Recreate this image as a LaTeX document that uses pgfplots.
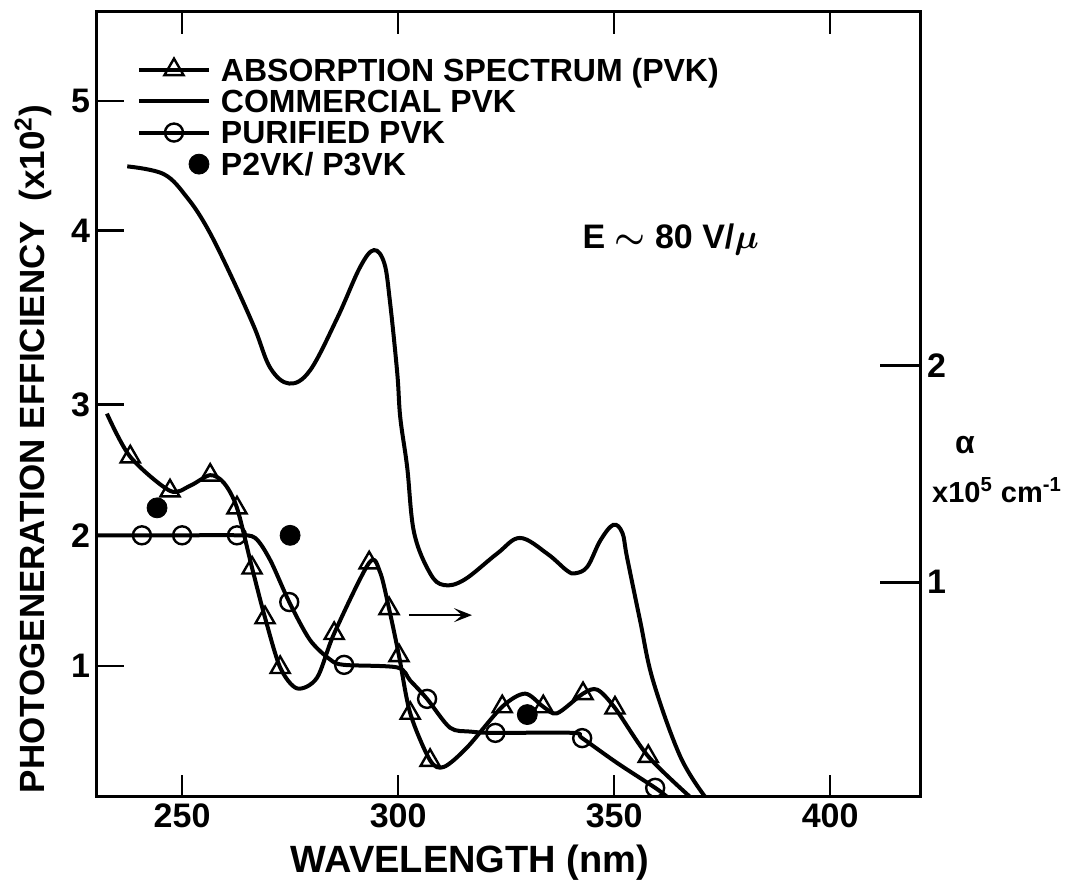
\documentclass[border=0pt]{standalone}
\usepackage{pgfplots}
\pgfplotsset{compat=1.18}
\usetikzlibrary{arrows.meta}
\usepackage{fontspec}
\setmainfont{Liberation Sans}

\pgfplotsset{
    pvk line legend/.style={legend image code/.code={
        \draw[##1, mark indices={2}] plot coordinates {(0pt,0pt) (17.5pt,0pt) (35pt,0pt)};}},
    pvk dot legend/.style={legend image code/.code={
        \draw[##1] plot coordinates {(30pt,0pt)};}},
}

\begin{document}
\begin{tikzpicture}
\begin{axis}[
    name=main,
    scale only axis,
    width=411.5pt, height=392.5pt,
    xmin=230.3, xmax=420.8,
    ymin=0, ymax=6,
    axis line style={line width=1.5pt},
    xtick={250,300,350,400},
    xticklabels={250,300,350,400},
    ytick={1,2,3,4.33,5.32},       % the printed axis is unevenly spaced
    yticklabels={1,2,3,4,5},
    xtick pos=both,
    ytick pos=left,
    tick align=inside,
    xtick style={line width=1.3pt, black, /pgfplots/major tick length=11pt},
    ytick style={line width=1.3pt, black, /pgfplots/major tick length=13.5pt},
    tick label style={font=\fontsize{17}{20}\selectfont\bfseries},
    xlabel={WAVELENGTH (nm)},
    ylabel={PHOTOGENERATION EFFICIENCY \ (x10\textsuperscript{2})},
    xlabel style={at={(rel axis cs:0.453,-0.084)}, anchor=center, font=\fontsize{19}{22}\selectfont\bfseries},
    ylabel style={at={(rel axis cs:-0.0778,0.443)}, anchor=center, font=\fontsize{17.5}{20}\selectfont\bfseries},
    legend style={
        at={(rel axis cs:0.0486,0.9414)}, anchor=north west,
        draw=none, fill=none, inner sep=0pt, outer sep=0pt,
        font=\fontsize{16}{19}\selectfont\bfseries,
        row sep=4.5pt, column sep=5pt,
        nodes={inner sep=0pt, text depth=0pt},
    },
    legend cell align=left,
    pvk line legend,
]

% absorption spectrum (PVK), right-hand scale
\addplot[black, line width=2pt, smooth, tension=0.5,
    mark=triangle, mark size=5.5pt, mark options={line width=1.2pt},
    mark indices={2,3,5,7,8,9,10,13,14,16,17,18,19,22,24,26,28,29}]
table {
x y
232.6 2.93
238.0 2.60
247.2 2.34
251.9 2.38
256.5 2.46
259.7 2.40
262.7 2.21
266.2 1.75
269.2 1.37
272.7 0.99
276.6 0.83
281.2 0.91
285.2 1.25
293.3 1.79
295.8 1.72
297.9 1.44
300.2 1.08
302.8 0.64
307.4 0.28
310.6 0.23
316.0 0.38
324.1 0.69
329.4 0.79
333.6 0.69
336.8 0.64
342.8 0.79
346.1 0.82
350.2 0.68
357.9 0.31
367.6 0.00
};
\addlegendentry{ABSORPTION SPECTRUM (PVK)}

% commercial PVK
\addplot[black, line width=2pt, smooth, tension=0.6]
table {
x y
237.3 4.82
245.8 4.76
251.2 4.58
255.8 4.35
261.1 4.00
266.7 3.59
270.4 3.28
274.8 3.16
279.6 3.26
285.9 3.66
291.2 4.05
294.4 4.18
296.8 4.08
298.1 3.79
299.8 3.24
300.5 2.90
302.1 2.52
303.7 2.02
307.4 1.71
310.6 1.62
315.3 1.66
322.9 1.86
328.2 1.98
334.5 1.86
339.1 1.73
341.0 1.71
343.8 1.76
346.8 1.96
349.8 2.08
351.9 2.02
353.0 1.83
356.0 1.35
359.0 0.89
365.3 0.31
371.1 0.00
};
\addlegendentry{COMMERCIAL PVK}

% purified PVK
\addplot[black, line width=2pt, smooth, tension=0.5,
    mark=o, mark size=4.5pt, mark options={line width=1.2pt},
    mark indices={2,3,4,7,10,13,16,18,20}]
table {
x y
230.3 2.00
240.7 2.00
250.0 2.00
262.7 2.00
266.9 1.98
270.4 1.81
274.8 1.49
279.6 1.20
284.3 1.05
287.5 1.01
299.8 0.99
302.8 0.89
306.7 0.75
312.0 0.53
316.7 0.50
322.5 0.49
340.5 0.49
342.6 0.45
350.7 0.26
359.5 0.07
362.3 0.00
};
\addlegendentry{PURIFIED PVK}

% P2VK / P3VK
\addplot[black, only marks, mark=*, mark size=5pt, pvk dot legend]
table {
x y
244.2 2.21
275.0 2.00
329.9 0.63
};
\addlegendentry{P2VK/ P3VK}

\draw[line width=1.3pt, -{Stealth[length=9pt,width=7pt,inset=4pt]}]
    (axis cs:302.5,1.39) -- (axis cs:317.1,1.39);
\node[anchor=base west, font=\fontsize{17}{20}\selectfont\bfseries\boldmath, inner sep=0pt]
    at (axis cs:342.6,4.19) {E $\sim$ 80 V/$\mu$};

\coordinate (bbsw) at (rel axis cs:0,0);
\coordinate (bbne) at (rel axis cs:1,1);
\end{axis}

% right-hand scale: absorption coefficient
\begin{axis}[
    scale only axis,
    width=411.5pt, height=392.5pt,
    xmin=230.3, xmax=420.8,
    ymin=0, ymax=6,
    axis x line=none,
    axis y line*=right,
    axis line style={line width=1.5pt},
    ytick={1.641,3.298},
    yticklabels={1,2},
    tick align=inside,
    ytick style={line width=1.3pt, black, /pgfplots/major tick length=20pt},
    tick label style={font=\fontsize{17}{20}\selectfont\bfseries},
    clip=false,
]
\node[font=\fontsize{16}{18}\selectfont\bfseries] at (rel axis cs:1.0547,0.4484) {α};
\node[font=\fontsize{14.5}{17}\selectfont\bfseries] at (rel axis cs:1.0936,0.391) {x10\textsuperscript{5} cm\textsuperscript{-1}};
\end{axis}

\pgfresetboundingbox
\path[use as bounding box] ([shift={(-48.5pt,-42.5pt)}]bbsw) rectangle ([shift={(76pt,6pt)}]bbne);
\end{tikzpicture}
\end{document}
